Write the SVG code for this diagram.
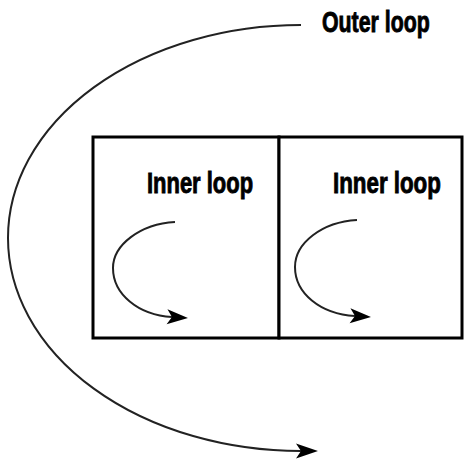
<svg xmlns="http://www.w3.org/2000/svg" width="464" height="460" viewBox="0 0 464 460">
  <style>
    .box { fill: #ffffff; stroke: #000000; stroke-width: 3; }
    .lbl { font-family: "Liberation Sans", Arial, sans-serif; font-weight: bold; font-size: 29px; fill: #000000; stroke: #000000; stroke-width: 0.9; }
    .loop { fill: none; stroke: #222222; stroke-width: 2; }
  </style>
  <defs>
    <marker id="bigArrow" markerUnits="userSpaceOnUse" markerWidth="30" markerHeight="20" viewBox="0 -10 30 20" refX="6" refY="0" orient="auto" overflow="visible">
      <path d="M0,-7.5 L22,0 L0,7.5 L5,0 Z" fill="#000000"/>
    </marker>
    <marker id="smallArrow" markerUnits="userSpaceOnUse" markerWidth="30" markerHeight="20" viewBox="0 -10 30 20" refX="5" refY="0" orient="auto" overflow="visible">
      <path d="M0,-7.5 L21,0 L0,7.5 L5,0 Z" fill="#000000"/>
    </marker>
  </defs>
  <rect width="464" height="460" fill="#ffffff"/>

  <g id="loop-body-left">
    <rect class="box" x="93" y="137" width="186" height="201"/>
    <text class="lbl" transform="translate(147,193) scale(0.757,1)" x="0" y="0">Inner loop</text>
  </g>
  <g id="loop-body-right">
    <rect class="box" x="279" y="137" width="183" height="201"/>
    <text class="lbl" transform="translate(333,193) scale(0.77,1)" x="0" y="0">Inner loop</text>
  </g>
  <g id="outer-label">
    <text class="lbl" transform="translate(322,32) scale(0.735,1)" x="0" y="0" font-size="30">Outer loop</text>
  </g>

  <g id="connectors">
    <path class="loop" d="M301,25 A293,213 0 0 0 301,451 L302,451" marker-end="url(#bigArrow)"/>
    <path class="loop" d="M175,222 C140,224 113,245 113,268 C113,294 138,315 172,317" marker-end="url(#smallArrow)"/>
    <path class="loop" d="M357,220 C322,222 295,243 295,267 C295,293 320,314 355,316" marker-end="url(#smallArrow)"/>
  </g>
</svg>
